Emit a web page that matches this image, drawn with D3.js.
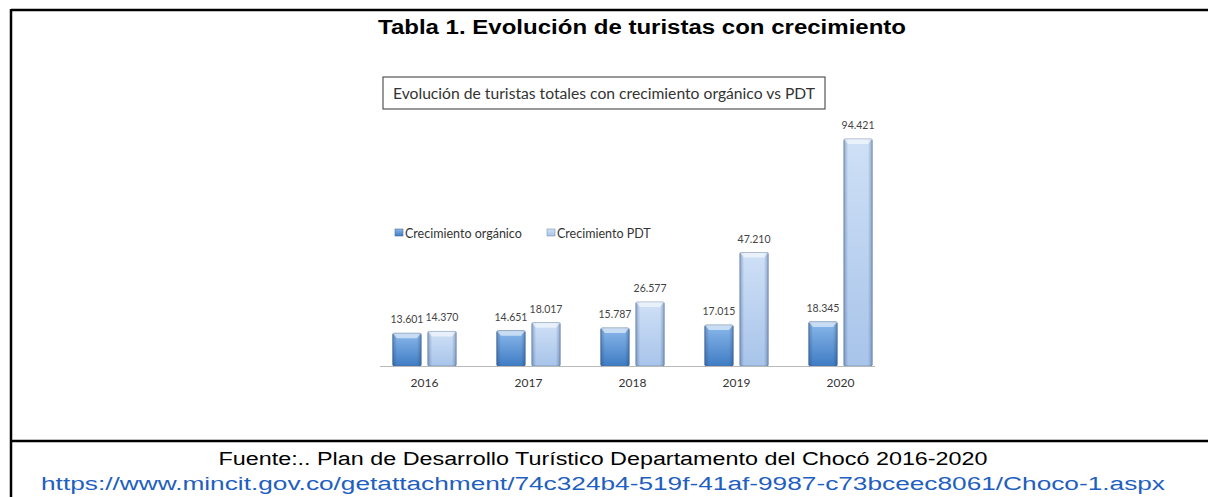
<html>
<head>
<meta charset="utf-8">
<script src="https://d3js.org/d3.v7.min.js"></script>
<style>
body { margin: 0; background: #fff; }
</style>
</head>
<body>
<svg id="svg" width="1208" height="497"></svg>
<script>
'use strict';

const years = ['2016', '2017', '2018', '2019', '2020'];
const series = ['Crecimiento orgánico', 'Crecimiento PDT'];
const organic = [13601, 14651, 15787, 17015, 18345];
const pdt = [14370, 18017, 26577, 47210, 94421];
const value_labels_org = ['13.601', '14.651', '15.787', '17.015', '18.345'];
const value_labels_pdt = ['14.370', '18.017', '26.577', '47.210', '94.421'];

const svg = d3.select('#svg');
const defs = svg.append('defs');

function bar_gradient(id, top, bottom) {
	const g = defs.append('linearGradient').attr('id', id)
		.attr('x1', 0).attr('y1', 0).attr('x2', 0).attr('y2', 1);
	g.append('stop').attr('offset', '0%').attr('stop-color', top);
	g.append('stop').attr('offset', '100%').attr('stop-color', bottom);
}
bar_gradient('g_org', '#8ab8ea', '#3f7cc4');
bar_gradient('g_pdt', '#cfe0f6', '#a8c4ea');

// darker sides for the bevel look
const side = defs.append('linearGradient').attr('id', 'g_side')
	.attr('x1', 0).attr('y1', 0).attr('x2', 1).attr('y2', 0);
side.append('stop').attr('offset', '0%').attr('stop-color', '#1e3f70').attr('stop-opacity', 0.35);
side.append('stop').attr('offset', '15%').attr('stop-color', '#1e3f70').attr('stop-opacity', 0);
side.append('stop').attr('offset', '85%').attr('stop-color', '#1e3f70').attr('stop-opacity', 0);
side.append('stop').attr('offset', '100%').attr('stop-color', '#1e3f70').attr('stop-opacity', 0.35);

// page frame
svg.append('line').attr('x1', 11).attr('x2', 1208).attr('y1', 10).attr('y2', 10)
	.attr('stroke', '#000').attr('stroke-width', 2.5);
svg.append('line').attr('x1', 11).attr('x2', 11).attr('y1', 9).attr('y2', 497)
	.attr('stroke', '#000').attr('stroke-width', 2.5);
svg.append('line').attr('x1', 11).attr('x2', 1208).attr('y1', 441).attr('y2', 441)
	.attr('stroke', '#000').attr('stroke-width', 2.5);

svg.append('text')
	.attr('x', 642).attr('y', 34)
	.attr('text-anchor', 'middle')
	.style('font-family', 'Liberation Sans, Arial, sans-serif')
	.style('font-weight', 'bold')
	.style('font-size', '20px')
	.attr('fill', '#000')
	.attr('textLength', 528)
	.attr('lengthAdjust', 'spacingAndGlyphs')
	.text('Tabla 1. Evolución de turistas con crecimiento');

// chart subtitle box
svg.append('rect').attr('x', 383).attr('y', 77).attr('width', 442).attr('height', 32)
	.attr('fill', '#fff').attr('stroke', '#555').attr('stroke-width', 1.2);
svg.append('text')
	.attr('x', 393).attr('y', 99)
	.style('font-family', 'Lato, sans-serif')
	.style('font-size', '15.5px')
	.attr('fill', '#333')
	.attr('textLength', 422)
	.attr('lengthAdjust', 'spacingAndGlyphs')
	.text('Evolución de turistas totales con crecimiento orgánico vs PDT');

// scales
const x0 = d3.scaleBand().domain(years).range([373, 892]).paddingInner(0.39).paddingOuter(0.19);
const x1 = d3.scaleBand().domain(series).range([0, x0.bandwidth()]).paddingInner(0.19);
const y = d3.scaleLinear().domain([0, 94421]).range([366, 139]);

const rows = years.map((yr, i) => ({
	year: yr,
	vals: [
		{ s: series[0], v: organic[i], label: value_labels_org[i], fill: 'url(#g_org)', stroke: '#4c6f9c' },
		{ s: series[1], v: pdt[i], label: value_labels_pdt[i], fill: 'url(#g_pdt)', stroke: '#7b93b8' }
	]
}));

const groups = svg.append('g').selectAll('g')
	.data(rows)
	.join('g')
	.attr('transform', d => `translate(${x0(d.year)},0)`);

const bars = groups.selectAll('g.bar')
	.data(d => d.vals)
	.join('g').attr('class', 'bar');

bars.append('rect')
	.attr('x', d => x1(d.s))
	.attr('y', d => y(d.v))
	.attr('width', x1.bandwidth())
	.attr('height', d => y(0) - y(d.v))
	.attr('rx', 1.5)
	.attr('fill', d => d.fill)
	.attr('stroke', d => d.stroke)
	.attr('stroke-width', 0.8);

bars.append('rect')
	.attr('x', d => x1(d.s))
	.attr('y', d => y(d.v))
	.attr('width', x1.bandwidth())
	.attr('height', d => y(0) - y(d.v))
	.attr('fill', 'url(#g_side)');

// top bevel highlight
bars.append('path')
	.attr('d', d => {
		const l = x1(d.s), r = l + x1.bandwidth(), t = y(d.v);
		return `M${l},${t} L${r},${t} L${r - 4},${t + 5} L${l + 4},${t + 5} Z`;
	})
	.attr('fill', '#fff')
	.attr('opacity', 0.55);

bars.append('text')
	.attr('x', d => x1(d.s) + x1.bandwidth() / 2)
	.attr('y', d => y(d.v) - 10)
	.attr('text-anchor', 'middle')
	.style('font-family', 'Lato, sans-serif')
	.style('font-size', '10.5px')
	.attr('fill', '#444')
	.text(d => d.label);

// axis
const axis = svg.append('g').attr('transform', `translate(0,${y(0)})`)
	.call(d3.axisBottom(x0).tickSize(0).tickPadding(12));
axis.select('.domain').attr('stroke', '#b8b8b8').attr('d', 'M380,0.5H875');
axis.selectAll('text')
	.style('font-family', 'Lato, sans-serif')
	.style('font-size', '12px')
	.attr('fill', '#333');

// legend
const legend = svg.append('g');
const legend_x = [395, 547];
series.forEach((s, i) => {
	const g = legend.append('g').attr('transform', `translate(${legend_x[i]},229)`);
	g.append('rect').attr('width', 8).attr('height', 7)
		.attr('fill', i === 0 ? 'url(#g_org)' : 'url(#g_pdt)')
		.attr('stroke', i === 0 ? '#4c6f9c' : '#7b93b8').attr('stroke-width', 0.6);
	g.append('text').attr('x', 10).attr('y', 8.5)
		.style('font-family', 'Lato, sans-serif')
		.style('font-size', '12.5px')
		.attr('fill', '#333')
		.text(s);
});

// source
svg.append('text')
	.attr('x', 603).attr('y', 465)
	.attr('text-anchor', 'middle')
	.style('font-family', 'Liberation Sans, Arial, sans-serif')
	.style('font-size', '18px')
	.attr('fill', '#000')
	.attr('textLength', 769)
	.attr('lengthAdjust', 'spacingAndGlyphs')
	.text('Fuente:.. Plan de Desarrollo Turístico Departamento del Chocó 2016-2020');
svg.append('text')
	.attr('x', 603).attr('y', 490)
	.attr('text-anchor', 'middle')
	.style('font-family', 'Liberation Sans, Arial, sans-serif')
	.style('font-size', '18px')
	.attr('fill', '#1f5fc0')
	.attr('textLength', 1124)
	.attr('lengthAdjust', 'spacingAndGlyphs')
	.text('https://www.mincit.gov.co/getattachment/74c324b4-519f-41af-9987-c73bceec8061/Choco-1.aspx');
</script>
</body>
</html>
